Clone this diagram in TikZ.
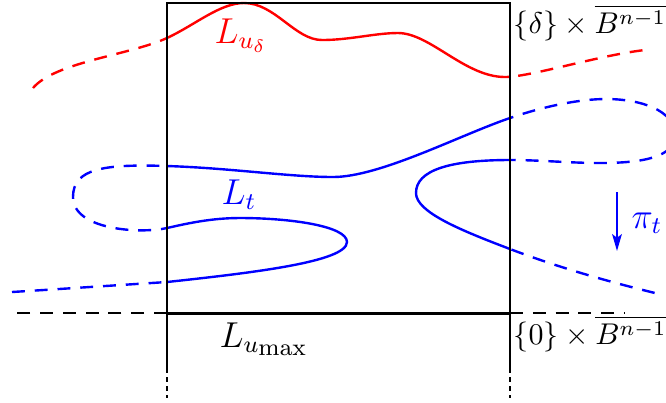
\documentclass[tikz,border=0pt]{standalone}
\usetikzlibrary{arrows.meta}
\begin{document}
\begin{tikzpicture}[x=0.3333pt,y=-0.3333pt,
  curve/.style={line width=0.8pt},
  dsh/.style={dash pattern=on 4.3pt off 3.3pt},
  redc/.style={curve,red},
  bluec/.style={curve,blue},
  boxline/.style={line width=0.5pt},
  lbl/.style={anchor=base west,inner sep=0pt}]
\useasboundingbox (0,0) rectangle (666,402);
\clip (0,0) rectangle (666,402);
% curves: solid inside the box, dashed outside
\foreach \xa/\xb/\sty in {0/167/dsh, 167/510/solid, 510/666/dsh} {
  \begin{scope}
    \clip (\xa,0) rectangle (\xb,402);
    \draw[redc,\sty] (33,88) .. controls (55,62) and (130,55) .. (167,38)
      .. controls (195,25) and (220,3) .. (244,3)
      .. controls (275,3) and (295,40) .. (322,40)
      .. controls (350,40) and (375,33) .. (398,33)
      .. controls (430,33) and (465,77) .. (505,77)
      .. controls (530,77) and (600,55) .. (645,50);
    \draw[bluec,\sty] (12,292) .. controls (60,289) and (120,285) .. (167,282)
      .. controls (250,273) and (347,262) .. (347,242)
      .. controls (347,226) and (290,218) .. (240,218)
      .. controls (210,218) and (185,224) .. (167,228)
      .. controls (140,234) and (73,230) .. (73,197)
      .. controls (73,168) and (105,164) .. (167,166)
      .. controls (230,168) and (290,177) .. (333,177)
      .. controls (380,177) and (460,135) .. (510,118)
      .. controls (545,106) and (580,99) .. (606,99)
      .. controls (640,99) and (675,110) .. (675,135)
      .. controls (675,158) and (640,163) .. (600,163)
      .. controls (570,163) and (540,160) .. (510,160)
      .. controls (450,160) and (416,170) .. (416,193)
      .. controls (416,212) and (460,230) .. (510,249)
      .. controls (560,268) and (610,282) .. (655,293);
  \end{scope}
}
% box
\draw[boxline] (167,368) -- (167,3) -- (510,3) -- (510,368);
\draw[boxline,dash pattern=on 1.5pt off 1.5pt] (167,368) -- (167,398);
\draw[boxline,dash pattern=on 1.5pt off 1.5pt] (510,368) -- (510,398);
\draw[line width=1pt] (167,313) -- (510,313);
\draw[line width=0.7pt,dsh] (167,313) -- (10,313);
\draw[line width=0.7pt,dsh] (510,313) -- (625,313);
% labels
\node[lbl,red,font=\large] (lud) at (214,43) {$L_{u_\delta}$};
\node[lbl,blue,font=\large] (lt) at (221,204) {$L_t$};
\node[lbl,font=\large] (lum) at (219,347) {$L_{u_{\scriptstyle\max}}$};
\node[lbl] (top) at (513,33) {$\{\delta\}\times\overline{B^{n-1}}$};
\node[lbl] (bot) at (513,344) {$\{0\}\times\overline{B^{n-1}}$};
\node[lbl,blue,font=\large] (pit) at (631,228) {$\pi_t$};
\coordinate (pa) at (617,192);
\coordinate (pb) at (617,251);
\draw[blue,line width=0.8pt,-{Stealth[length=5.6pt,width=3.2pt,inset=1.2pt]}] (pa) -- (pb);
\end{tikzpicture}
\end{document}
